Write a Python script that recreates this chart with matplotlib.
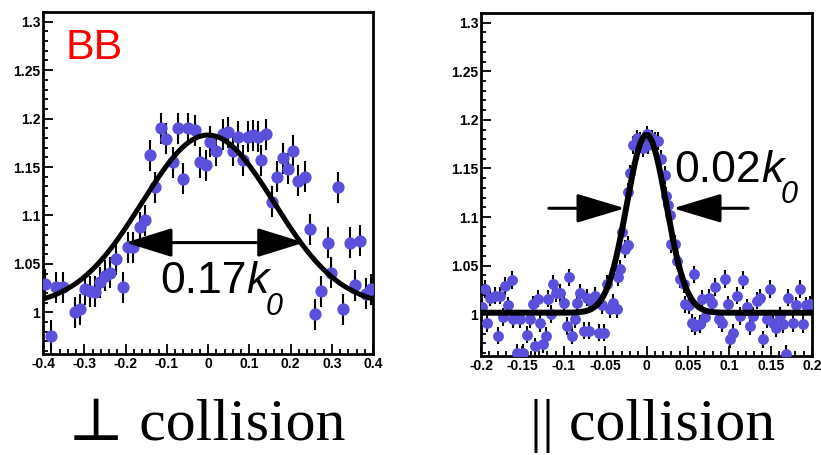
import numpy as np
import matplotlib
matplotlib.use("Agg")
import matplotlib.pyplot as plt
from matplotlib.ticker import MultipleLocator, FuncFormatter
from matplotlib.patches import FancyArrowPatch

plt.rcParams['font.family'] = ['Liberation Sans', 'DejaVu Sans']

# perpendicular collisions (BB)
perp_x = [-0.396, -0.380, -0.368, -0.352, -0.323, -0.311, -0.299, -0.287, -0.275, -0.263,
          -0.250, -0.238, -0.222, -0.206, -0.194, -0.182, -0.166, -0.154, -0.141, -0.129,
          -0.113, -0.101, -0.085, -0.073, -0.061, -0.048, -0.032, -0.020, -0.004, 0.004,
          0.020, 0.036, 0.048, 0.061, 0.073, 0.085, 0.097, 0.109, 0.121, 0.129,
          0.141, 0.154, 0.166, 0.182, 0.194, 0.206, 0.218, 0.234, 0.246, 0.259,
          0.275, 0.291, 0.299, 0.315, 0.327, 0.343, 0.356, 0.368, 0.384, 0.396]
perp_y = [1.029, 0.976, 1.026, 1.026, 1.000, 1.003, 1.024, 1.022, 1.021, 1.031,
          1.038, 1.041, 1.055, 1.026, 1.067, 1.067, 1.088, 1.095, 1.162, 1.129,
          1.190, 1.179, 1.155, 1.190, 1.138, 1.190, 1.188, 1.155, 1.152, 1.176,
          1.167, 1.184, 1.186, 1.167, 1.181, 1.157, 1.181, 1.183, 1.181, 1.157,
          1.184, 1.114, 1.140, 1.159, 1.148, 1.167, 1.136, 1.140, 1.086, 0.998,
          1.022, 1.072, 1.041, 1.129, 1.003, 1.072, 1.028, 1.074, 1.019, 1.024]
perp_err = 0.016
# gaussian fit: baseline, amplitude, sigma
perp_fit = (1.006, 0.177, 0.160)

# parallel collisions
par_x = [-0.199, -0.195, -0.193, -0.189, -0.183, -0.179, -0.177, -0.173, -0.171, -0.167,
         -0.163, -0.161, -0.157, -0.153, -0.149, -0.145, -0.141, -0.137, -0.135, -0.131,
         -0.129, -0.125, -0.121, -0.119, -0.115, -0.113, -0.109, -0.104, -0.100, -0.096,
         -0.094, -0.090, -0.086, -0.084, -0.080, -0.076, -0.072, -0.070, -0.066, -0.062,
         -0.058, -0.054, -0.052, -0.048, -0.044, -0.040, -0.036, -0.034, -0.032, -0.030,
         -0.026, -0.022, -0.022, -0.020, -0.016, -0.012, -0.008, -0.004, 0.000, 0.002,
         0.006, 0.010, 0.014, 0.018, 0.022, 0.024, 0.026, 0.028, 0.030, 0.034,
         0.037, 0.041, 0.045, 0.047, 0.051, 0.055, 0.057, 0.059, 0.065, 0.067,
         0.071, 0.075, 0.079, 0.083, 0.087, 0.091, 0.095, 0.099, 0.101, 0.105,
         0.109, 0.113, 0.117, 0.121, 0.125, 0.129, 0.133, 0.137, 0.141, 0.145,
         0.149, 0.153, 0.157, 0.161, 0.165, 0.169, 0.171, 0.177, 0.181, 0.185,
         0.189, 0.193, 0.197]
par_y = [1.007, 1.026, 0.991, 1.017, 1.019, 0.978, 1.019, 0.997, 1.029, 1.009,
         1.035, 0.995, 0.960, 0.995, 0.960, 0.979, 0.995, 1.010, 0.967, 1.016,
         0.991, 0.969, 0.978, 1.016, 1.000, 1.031, 1.022, 1.022, 1.012, 0.988,
         1.038, 0.978, 0.995, 1.012, 1.022, 0.983, 1.017, 0.983, 1.012, 1.019,
         0.981, 1.009, 0.981, 1.031, 1.005, 1.012, 1.005, 1.038, 1.047, 1.085,
         1.067, 1.071, 1.126, 1.145, 1.174, 1.181, 1.178, 1.171, 1.185, 1.174,
         1.181, 1.178, 1.178, 1.160, 1.143, 1.122, 1.112, 1.102, 1.072, 1.072,
         1.055, 1.036, 1.031, 1.010, 1.009, 0.991, 1.041, 0.988, 0.990, 1.016,
         0.997, 1.017, 1.012, 1.028, 0.995, 0.991, 1.036, 1.010, 0.974, 0.981,
         1.019, 0.998, 1.035, 1.007, 0.988, 0.998, 1.014, 1.017, 0.974, 0.995,
         1.026, 0.991, 0.986, 0.998, 0.990, 0.959, 1.017, 0.991, 1.009, 1.026,
         0.990, 1.009, 1.010]
par_err = 0.009
par_fit = (1.0015, 0.183, 0.024)

point_color = '#5a50dc'


def gauss(x, p):
    b, a, s = p
    return b + a * np.exp(-0.5 * (x / s) ** 2)


def fmt(v, pos):
    return f'{v:g}'


def setup(ax, xlim, xmajor, xminor):
    ax.set_xlim(xlim)
    ax.set_ylim(0.957, 1.31)
    ax.xaxis.set_major_locator(MultipleLocator(xmajor))
    ax.xaxis.set_minor_locator(MultipleLocator(xminor))
    ax.yaxis.set_major_locator(MultipleLocator(0.05))
    ax.yaxis.set_minor_locator(MultipleLocator(0.01))
    ax.xaxis.set_major_formatter(FuncFormatter(fmt))
    ax.yaxis.set_major_formatter(FuncFormatter(fmt))
    ax.tick_params(which='both', direction='in', width=1.3, pad=2,
                   top=False, right=False)
    ax.tick_params(which='major', length=7)
    ax.tick_params(which='minor', length=3.5)
    for lab in ax.get_xticklabels() + ax.get_yticklabels():
        lab.set_fontweight('bold')
        lab.set_fontsize(10)
    for sp in ax.spines.values():
        sp.set_linewidth(2)


def arrow(ax, x0, x1, y, style):
    ax.add_patch(FancyArrowPatch((x0, y), (x1, y), arrowstyle=style,
                                 mutation_scale=1, lw=2.2, color='black',
                                 shrinkA=0, shrinkB=0, zorder=6))


def width_label(ax, x, y, value):
    # number, italic k, then a lowered italic 0 as subscript
    t1 = ax.text(x, y, value, fontsize=32, va='baseline')
    t2 = ax.annotate('k', xy=(1, 0), xycoords=t1, fontsize=32,
                     fontstyle='italic', va='bottom', ha='left')
    ax.annotate('0', xy=(1, 0), xycoords=t2, xytext=(-2, -9),
                textcoords='offset points', fontsize=22,
                fontstyle='italic', va='baseline', ha='left')


fig = plt.figure(figsize=(8.21, 4.55), dpi=100)
ax1 = fig.add_axes([0.0524, 0.222, 0.402, 0.7516])
ax2 = fig.add_axes([0.5859, 0.2176, 0.4032, 0.754])

# left panel
ax1.errorbar(perp_x, perp_y, yerr=perp_err, fmt='o', ms=7.8, mfc=point_color,
             mec=point_color, ecolor='black', elinewidth=1.5, capsize=0, zorder=3)
xs = np.linspace(-0.4, 0.4, 400)
ax1.plot(xs, gauss(xs, perp_fit), color='black', lw=3.6, zorder=4)
setup(ax1, (-0.4, 0.4), 0.1, 0.02)
ax1.text(-0.345, 1.262, 'BB', color='red', fontsize=31)
arrow(ax1, -0.200, 0.233, 1.072, '<|-|>,head_length=29,head_width=9')
width_label(ax1, -0.116, 1.0196, '0.17')

# right panel
ax2.errorbar(par_x, par_y, yerr=par_err, fmt='o', ms=6.8, mfc=point_color,
             mec=point_color, ecolor='black', elinewidth=1.5, capsize=0, zorder=3)
xs2 = np.linspace(-0.2, 0.2, 600)
ax2.plot(xs2, gauss(xs2, par_fit), color='black', lw=4.3, zorder=4)
setup(ax2, (-0.2, 0.2), 0.05, 0.01)
arrow(ax2, -0.118, -0.026, 1.109, '-|>,head_length=30,head_width=9')
arrow(ax2, 0.1227, 0.032, 1.109, '-|>,head_length=30,head_width=9')
width_label(ax2, 0.034, 1.1365, '0.02')

serif = ['Liberation Serif', 'DejaVu Serif']
fig.text(0.252, 0.033, '\u22a5 collision', ha='center', va='baseline',
         fontsize=43, family=serif)
fig.text(0.795, 0.033, '|| collision', ha='center', va='baseline',
         fontsize=43, family=serif)

fig.savefig('out.png', dpi=100)
